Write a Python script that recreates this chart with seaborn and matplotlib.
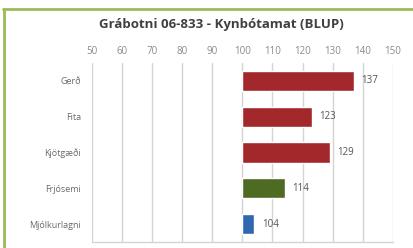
import numpy as np
import pandas as pd
import matplotlib
matplotlib.use("Agg")
import matplotlib.pyplot as plt
import seaborn as sns

# data
traits = ["Gerð", "Fita", "Kjötgæði", "Frjósemi", "Mjólkurlagni"]
blup = [137, 123, 129, 114, 104]
bar_colors = ["#A3282B", "#A3282B", "#A3282B", "#4F6A22", "#2F68AE"]
baseline = 100
x_ticks = [50, 60, 70, 80, 90, 100, 110, 120, 130, 140, 150]
title = "Grábotni 06-833 - Kynbótamat (BLUP)"

df = pd.DataFrame({"trait": traits, "blup": blup})
df["gain"] = df["blup"] - baseline

sns.set_style("white")
plt.rcParams["font.family"] = ["Open Sans", "DejaVu Sans"]

fig = plt.figure(figsize=(4.13, 2.48), dpi=100)
ax = fig.add_axes([0.223, 0.024, 0.728, 0.722])

sns.barplot(data=df, x="gain", y="trait", hue="trait", palette=bar_colors,
            saturation=1, legend=False, width=0.56, left=baseline, ax=ax, zorder=3)

ax.set_xlim(50, 150)
ax.set_xticks(x_ticks)
ax.xaxis.tick_top()
ax.tick_params(axis="x", length=0, labelsize=7, colors="#8a8a8a", pad=4)
ax.tick_params(axis="y", length=0, labelsize=6.5, colors="#6a6a6a", pad=8)
ax.set_xlabel("")
ax.set_ylabel("")
ax.grid(axis="x", color="#d4d4d4", lw=1.0, zorder=0)
for s in ["top", "right", "left"]:
    ax.spines[s].set_visible(False)
ax.spines["bottom"].set_color("#d4d4d4")
ax.spines["bottom"].set_linewidth(1.0)

for i, v in enumerate(blup):
    ax.text(v + 2.5, i, str(v), va="center", ha="left", fontsize=7, color="#555555")

fig.text(0.535, 0.9, title, ha="center", va="center", fontsize=9.5,
         fontweight="bold", color="#404040")

# green frame edges
fig.add_artist(plt.Line2D([0.008, 1.0], [0.962, 0.962], color="#9BBB59", lw=2.0))
fig.add_artist(plt.Line2D([0.010, 0.010], [0.0, 0.962], color="#9BBB59", lw=2.0))

fig.savefig("out.png", dpi=100)
